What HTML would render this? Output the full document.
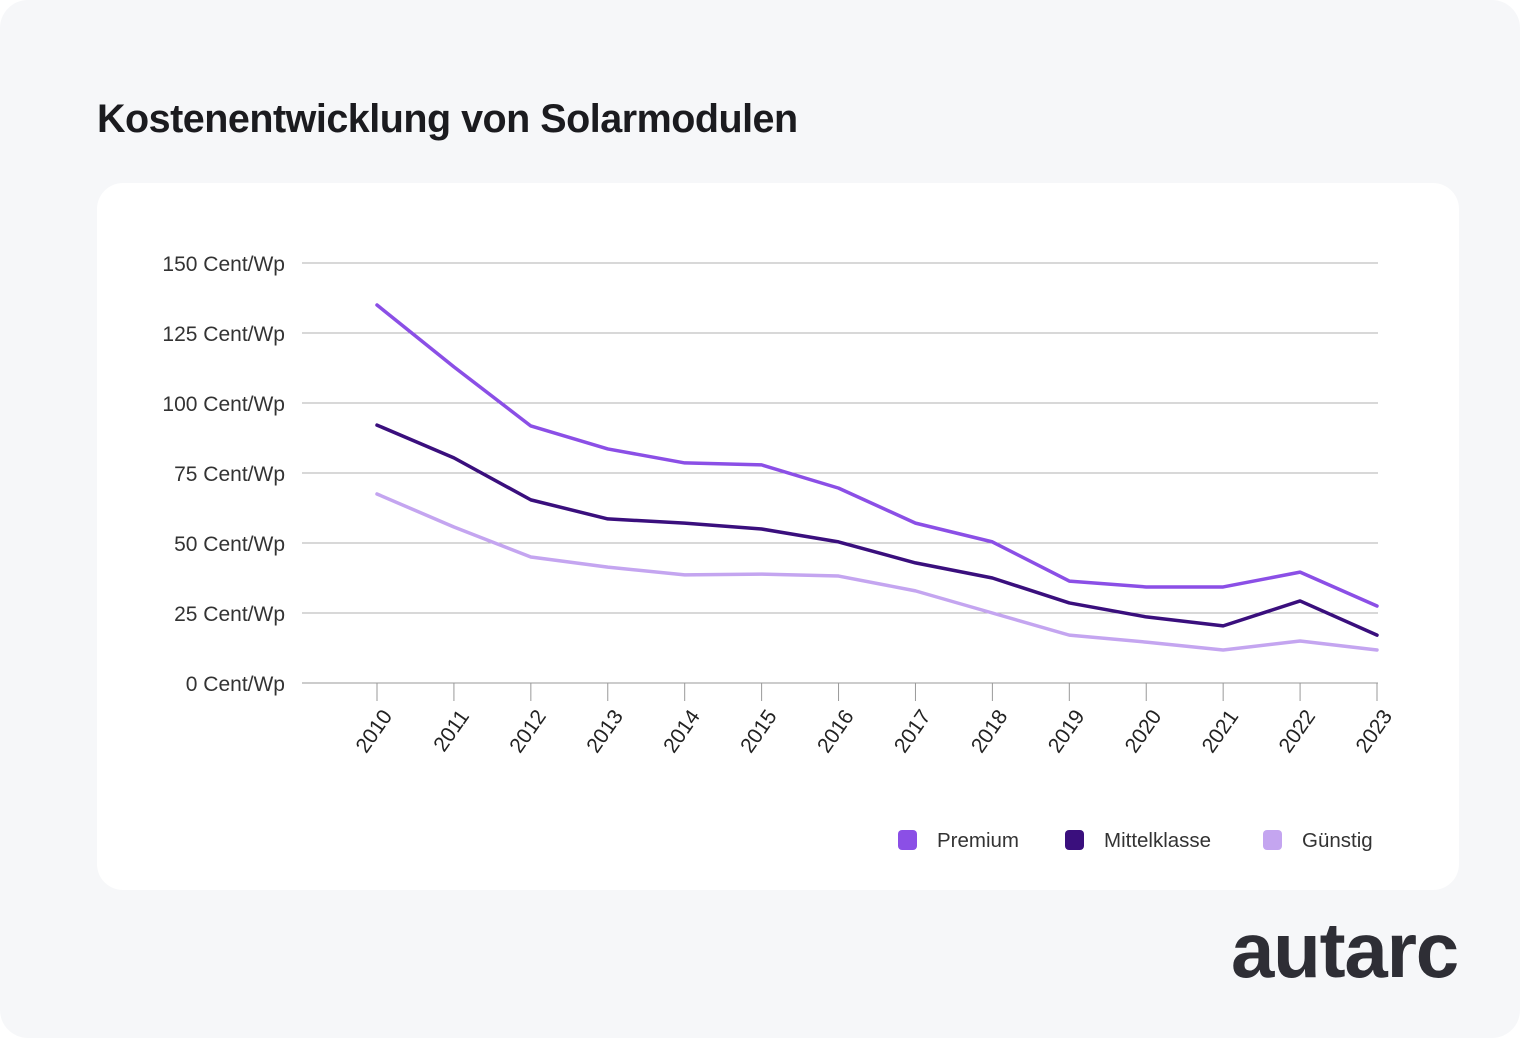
<!DOCTYPE html>
<html><head><meta charset="utf-8"><style>
body{margin:0;width:1520px;height:1038px;background:#fff;font-family:"Liberation Sans",sans-serif;}
#outer{position:absolute;left:0;top:0;width:1520px;height:1038px;background:#f6f7f9;border-radius:28px;}
#title{position:absolute;left:97px;top:97px;font-size:39.5px;font-weight:bold;color:#1b1b1f;letter-spacing:-0.5px;}
#card{position:absolute;left:97px;top:183px;width:1362px;height:707px;background:#fff;border-radius:26px;}
#logo{position:absolute;left:1231px;top:905px;font-size:78px;font-weight:bold;color:#2e2e35;letter-spacing:-1.2px;}
svg{position:absolute;left:0;top:0;}
</style></head><body>
<div id="outer"></div>
<div id="title">Kostenentwicklung von Solarmodulen</div>
<div id="card"></div>
<div id="logo">autarc</div>
<svg id="chart" width="1520" height="1038"></svg>
<script>
const years=["2010","2011","2012","2013","2014","2015","2016","2017","2018","2019","2020","2021","2022","2023"];
const premium=[135,112.9,91.8,83.6,78.6,77.9,69.6,57.1,50.4,36.4,34.3,34.3,39.6,27.5];
const mittel=[92.1,80.4,65.4,58.6,57.1,55,50.4,42.9,37.5,28.6,23.6,20.4,29.3,17.1];
const guenstig=[67.5,55.7,45,41.4,38.6,38.9,38.2,32.9,25,17.1,14.6,11.8,15,11.8];
const yTicks=[0,25,50,75,100,125,150];
const NS="http://www.w3.org/2000/svg";
const svg=document.getElementById('chart');
const x=i=>377+i*(1000/13);
const y=v=>683-v*2.8;
function el(t,a,p){const e=document.createElementNS(NS,t);for(const k in a)e.setAttribute(k,a[k]);(p||svg).appendChild(e);return e;}
yTicks.forEach(v=>{
  const l=el('line',{x1:302,x2:1378,y1:y(v),y2:y(v),stroke:v===0?'#999':'#b0b0b0','stroke-width':1});
  
  
  const t=el('text',{x:285,y:y(v)+8,'text-anchor':'end','font-size':21,fill:'#333','font-family':'Liberation Sans, sans-serif'});
  t.textContent=v+' Cent/Wp';
  
  
});
years.forEach((yr,i)=>{
  const l=el('line',{x1:x(i),x2:x(i),y1:683,y2:701,stroke:'#999','stroke-width':1});
  
  
  const t=el('text',{x:0,y:0,'text-anchor':'end','font-size':21,fill:'#222','font-family':'Liberation Sans, sans-serif',transform:`translate(${x(i)+16},${716}) rotate(-55)`});
  t.textContent=yr;
  
  
});
const series=[[guenstig,'#c4a5f0','series-guenstig'],[mittel,'#3a0f7d','series-mittelklasse'],[premium,'#8b4fe6','series-premium']];
series.forEach(([d,c,n])=>{
  const p=el('polyline',{points:d.map((v,i)=>x(i)+','+y(v)).join(' '),fill:'none',stroke:c,'stroke-width':3.5,'stroke-linejoin':'round','stroke-linecap':'round'});
  
  
});
const legend=[['Premium','#8b4fe6',898],['Mittelklasse','#3a0f7d',1065],['Günstig','#c4a5f0',1263]];
legend.forEach(([t,c,lx])=>{
  const g=el('g',{});
  
  
  el('rect',{x:lx,y:830,width:19,height:20,rx:4,fill:c},g);
  const tx=el('text',{x:lx+39,y:847,'font-size':20.5,fill:'#333','font-family':'Liberation Sans, sans-serif'},g);
  tx.textContent=t;
});
</script>
</body></html>
